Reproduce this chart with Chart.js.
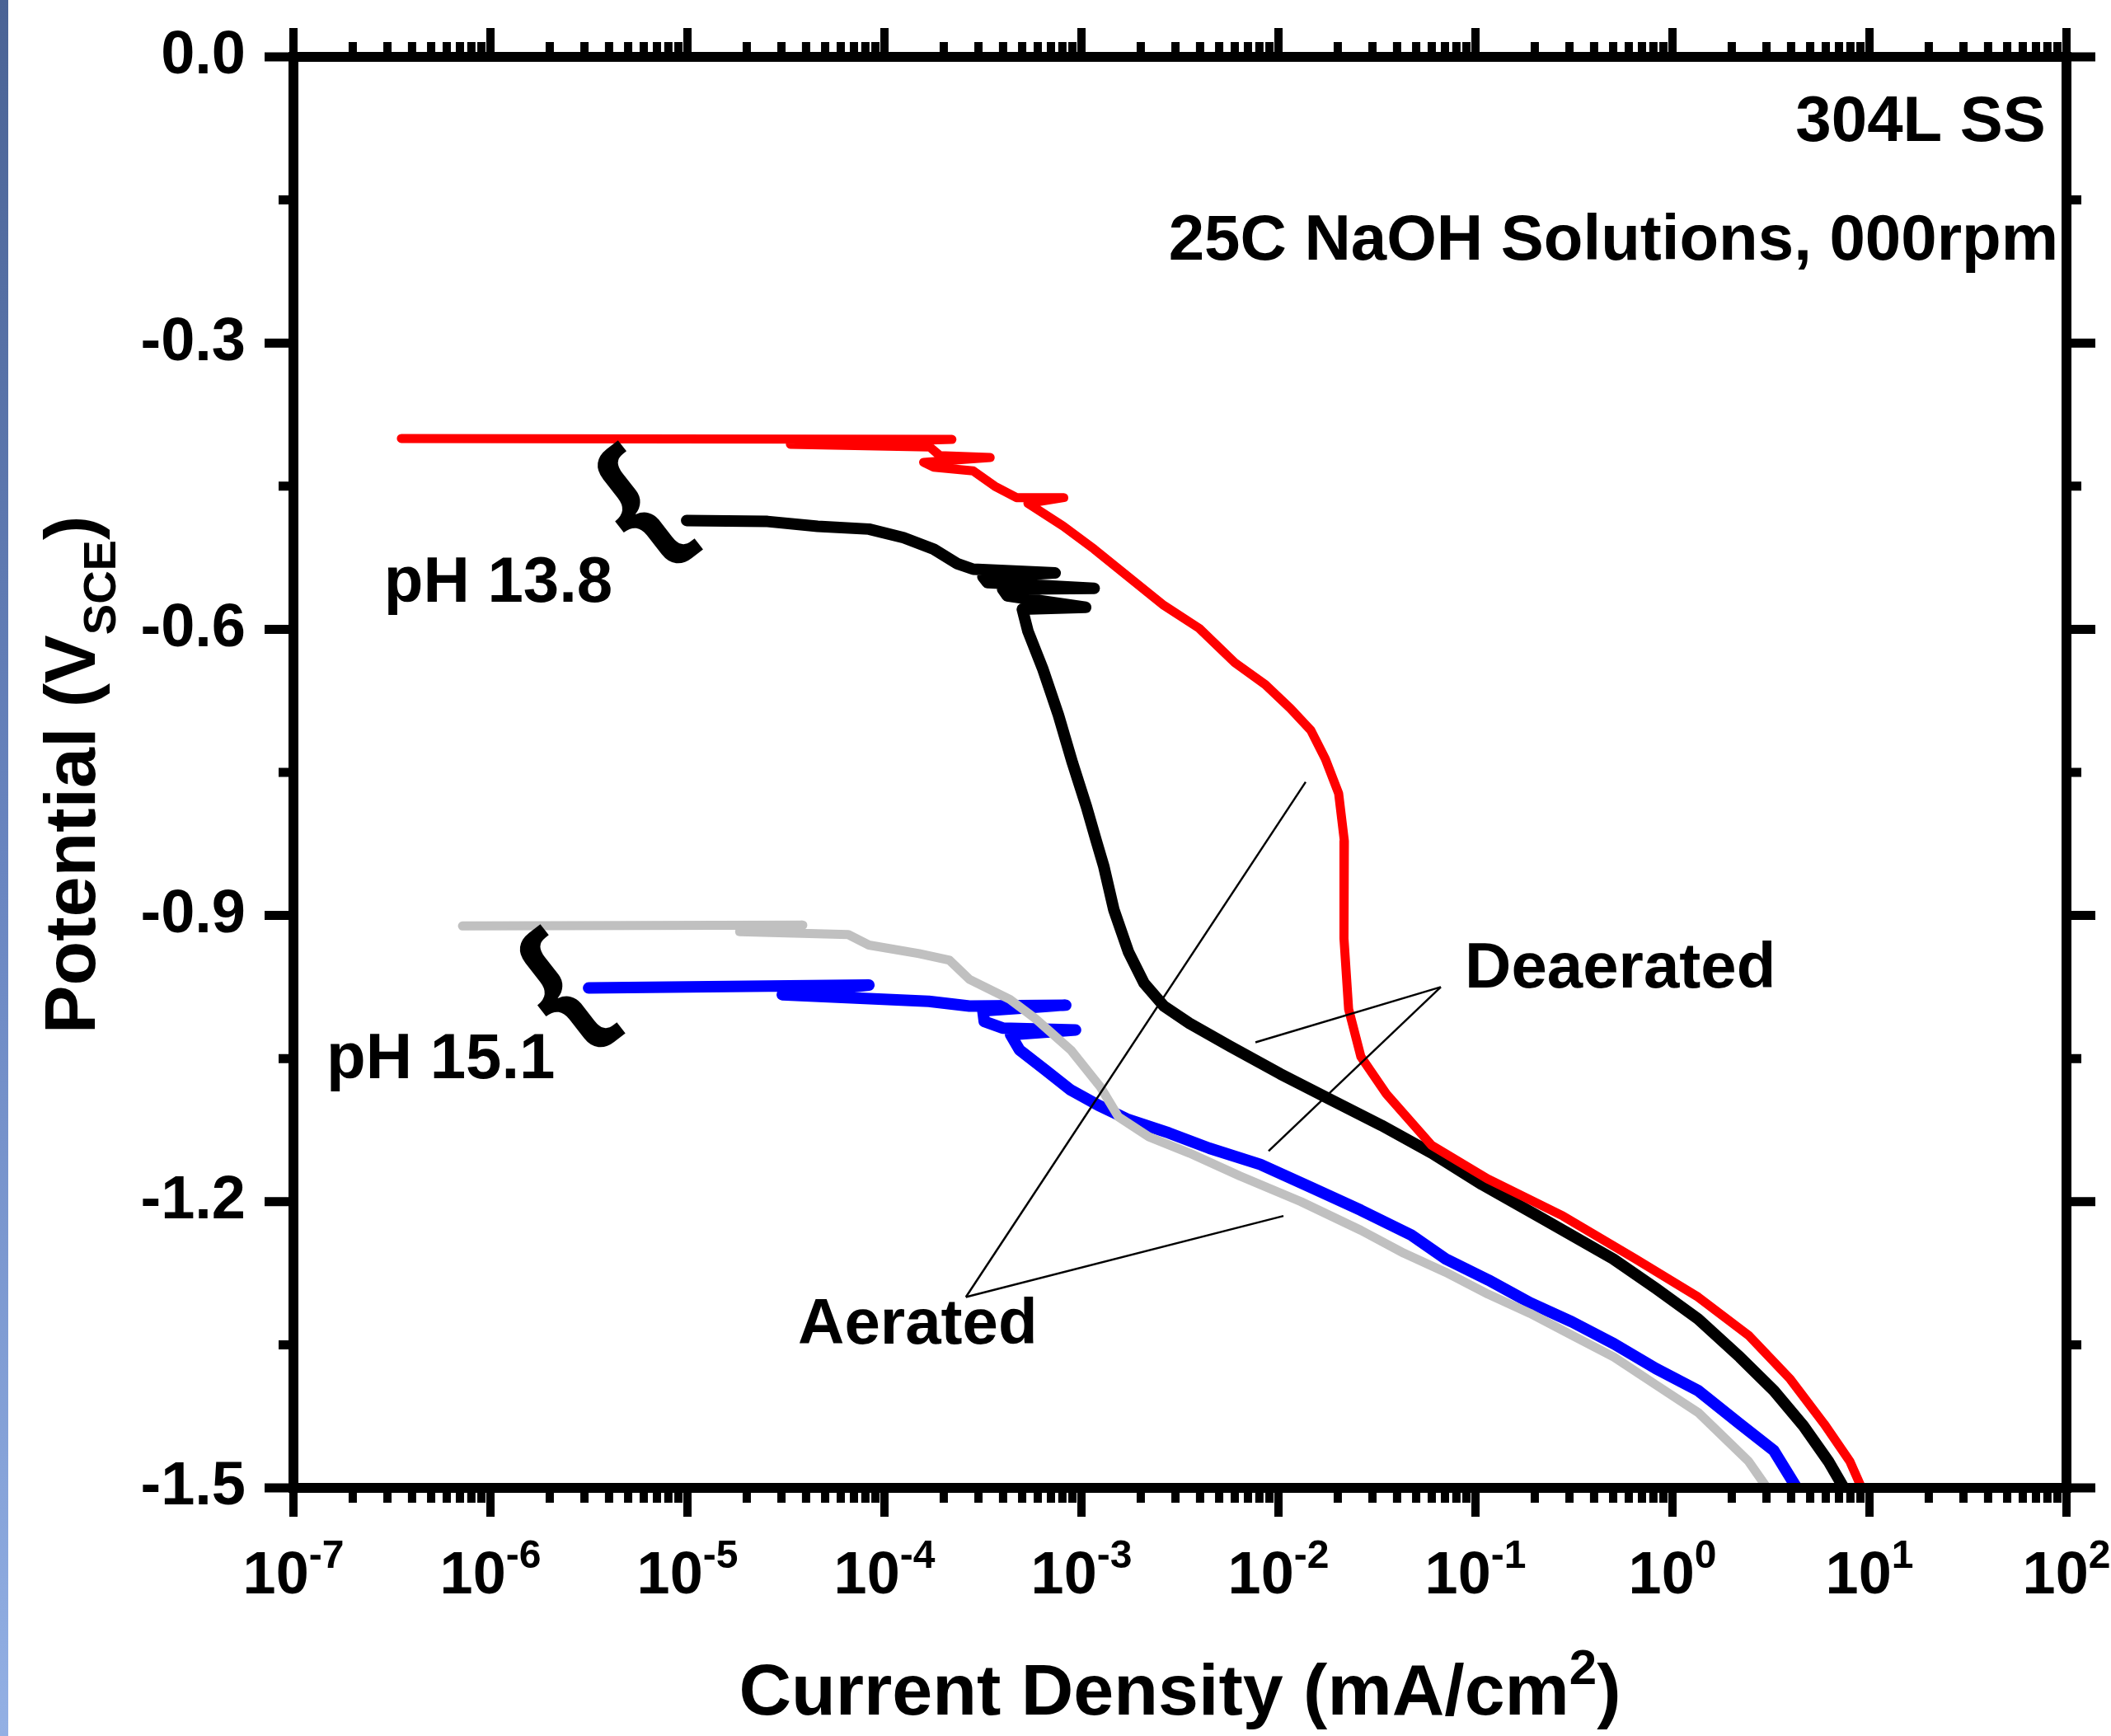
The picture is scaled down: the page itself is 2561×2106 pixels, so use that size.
<!DOCTYPE html>
<html>
<head>
<meta charset="utf-8">
<script src="https://cdn.jsdelivr.net/npm/chart.js@4.4.0/dist/chart.umd.min.js"></script>
<style>
html,body{margin:0;padding:0;background:#fff;}
canvas{display:block;}
</style>
</head>
<body>
<canvas id="c" width="2561" height="2106" style="width:2561px;height:2106px"></canvas>
<script>
// ---------- axis tick data ----------
const xDecades = [-7, -6, -5, -4, -3, -2, -1, 0, 1, 2];
const xTickBase = '10';
const xTickExponents = ['-7', '-6', '-5', '-4', '-3', '-2', '-1', '0', '1', '2'];
const yTickValues = [0, -0.3, -0.6, -0.9, -1.2, -1.5];
const yTickLabels = ['0.0', '-0.3', '-0.6', '-0.9', '-1.2', '-1.5'];
const yMinorStep = 0.15;

// ---------- series (current density mA/cm2, potential V_SCE) ----------
// Aerated, pH 13.8 (red)
const aer138Current = [3.53e-7, 2.20e-4, 3.33e-5, 1.70e-4, 1.91e-4, 3.44e-4, 1.58e-4, 1.78e-4, 2.82e-4, 3.63e-4,
  4.68e-4, 8.13e-4, 5.35e-4, 8.09e-4, 1.16e-3, 1.73e-3, 2.62e-3, 3.96e-3, 6.0e-3, 8.57e-3,
  1.15e-2, 1.46e-2, 1.73e-2, 2.02e-2, 2.16e-2, 2.15e-2, 2.27e-2, 2.62e-2, 3.53e-2, 6.0e-2,
  0.115, 0.278, 0.649, 1.35, 2.43, 3.96, 5.89, 7.94, 9.12];
const aer138Potential = [-0.400, -0.401, -0.406, -0.409, -0.418, -0.420, -0.425, -0.430, -0.434, -0.450,
  -0.462, -0.462, -0.468, -0.492, -0.516, -0.545, -0.575, -0.599, -0.635, -0.658,
  -0.683, -0.706, -0.736, -0.772, -0.822, -0.924, -0.998, -1.048, -1.087, -1.141,
  -1.176, -1.215, -1.260, -1.300, -1.340, -1.386, -1.433, -1.472, -1.500];

// Deaerated, pH 13.8 (black)
const deaer138Current = [9.91e-6, 2.55e-5, 4.58e-5, 8.34e-5, 1.25e-4, 1.78e-4, 2.33e-4, 2.82e-4, 7.35e-4, 3.16e-4,
  3.33e-4, 1.16e-3, 3.98e-4, 4.2e-4, 1.05e-3, 5.01e-4, 5.35e-4, 6.35e-4, 7.64e-4, 9.0e-4,
  1.06e-3, 1.19e-3, 1.30e-3, 1.46e-3, 1.73e-3, 2.08e-3, 2.62e-3, 3.53e-3, 5.66e-3, 1.02e-2,
  1.84e-2, 3.33e-2, 6.0e-2, 0.108, 0.220, 0.500, 0.824, 1.35, 2.20, 3.27, 4.62, 6.18, 7.41];
const deaer138Potential = [-0.486, -0.487, -0.492, -0.495, -0.504, -0.516, -0.531, -0.537, -0.541, -0.545,
  -0.551, -0.557, -0.558, -0.565, -0.577, -0.579, -0.602, -0.641, -0.690, -0.740,
  -0.786, -0.822, -0.849, -0.894, -0.938, -0.971, -0.995, -1.013, -1.037, -1.066,
  -1.093, -1.120, -1.149, -1.182, -1.218, -1.260, -1.291, -1.323, -1.363, -1.398, -1.435, -1.472, -1.500];

// Aerated, pH 15.1 (gray)
const aer151Current = [7.21e-7, 3.85e-5, 1.84e-5, 6.55e-5, 8.34e-5, 1.50e-4, 2.14e-4, 2.70e-4, 4.33e-4, 5.83e-4,
  8.83e-4, 1.25e-3, 1.54e-3, 2.20e-3, 3.53e-3, 6.35e-3, 1.30e-2, 2.62e-2, 4.33e-2, 7.06e-2,
  0.116, 0.189, 0.309, 0.505, 0.824, 1.35, 2.00, 2.43, 3.02];
const aer151Potential = [-0.911, -0.910, -0.917, -0.920, -0.931, -0.940, -0.947, -0.967, -0.988, -1.008,
  -1.041, -1.080, -1.111, -1.132, -1.149, -1.173, -1.200, -1.230, -1.254, -1.274,
  -1.297, -1.317, -1.340, -1.363, -1.392, -1.421, -1.455, -1.472, -1.500];

// Deaerated, pH 15.1 (blue)
const deaer151Current = [3.15e-6, 8.34e-5, 3.03e-5, 1.68e-4, 2.70e-4, 8.32e-4, 3.16e-4, 3.21e-4, 3.98e-4, 9.33e-4,
  4.37e-4, 4.85e-4, 6.55e-4, 8.83e-4, 1.22e-3, 1.73e-3, 2.78e-3, 4.46e-3, 8.09e-3, 1.46e-2,
  2.62e-2, 4.72e-2, 7.06e-2, 0.116, 0.189, 0.309, 0.505, 0.824, 1.35, 2.20, 3.27, 4.27];
const deaer151Potential = [-0.976, -0.973, -0.983, -0.990, -0.995, -0.994, -1.000, -1.011, -1.018, -1.020,
  -1.025, -1.041, -1.062, -1.083, -1.099, -1.114, -1.128, -1.144, -1.161, -1.185,
  -1.209, -1.235, -1.260, -1.282, -1.306, -1.326, -1.349, -1.375, -1.398, -1.433, -1.461, -1.500];

// ---------- annotations (in data coordinates) ----------
const noteTexts = [
  { text: '304L SS', x: 78.5, y: -0.0881, align: 'right' },
  { text: '25C NaOH Solutions, 000rpm', x: 90.8, y: -0.2126, align: 'right' },
  { text: 'pH 13.8', x: 2.88e-7, y: -0.5712, align: 'left' },
  { text: 'pH 15.1', x: 1.47e-7, y: -1.0706, align: 'left' },
  { text: 'Deaerated', x: 0.0883, y: -0.9755, align: 'left' },
  { text: 'Aerated', x: 3.64e-5, y: -1.3488, align: 'left' }
];
const braces = [
  { x: 6.93e-6, y: -0.4627 },
  { x: 2.79e-6, y: -0.9699 }
];
const pointers = [
  { apex: [0.0667, -0.975], ends: [[0.00764, -1.033], [0.00891, -1.147]] },
  { apex: [2.59e-4, -1.300], ends: [[0.01374, -0.760], [0.0106, -1.215]] }
];

const FONT = '"Liberation Sans", Arial, Helvetica, sans-serif';
const zip = (xs, ys) => xs.map((x, i) => ({ x: x, y: ys[i] }));

function lineSet(label, xs, ys, color, w) {
  return {
    label: label, data: zip(xs, ys), borderColor: color, backgroundColor: color,
    borderWidth: w, pointRadius: 0, tension: 0, fill: false,
    borderCapStyle: 'round', borderJoinStyle: 'round'
  };
}

const decorPlugin = {
  id: 'decor',
  beforeDraw(chart) {
    const ctx = chart.ctx;
    ctx.save();
    ctx.fillStyle = '#ffffff';
    ctx.fillRect(0, 0, chart.width, chart.height);
    const g = ctx.createLinearGradient(0, 0, 0, chart.height);
    g.addColorStop(0, '#4a6395');
    g.addColorStop(0.5, '#6985c0');
    g.addColorStop(1, '#93b0e4');
    ctx.fillStyle = g;
    ctx.fillRect(0, 0, 10, chart.height);
    ctx.restore();
  },
  afterDatasetsDraw(chart) {
    const ctx = chart.ctx;
    const xs = chart.scales.x, ys = chart.scales.y;
    const a = chart.chartArea;
    const px = v => xs.getPixelForValue(v);
    const py = v => ys.getPixelForValue(v);
    ctx.save();

    // pointer lines
    ctx.strokeStyle = '#000';
    ctx.lineWidth = 2.5;
    ctx.lineCap = 'butt';
    pointers.forEach(p => {
      p.ends.forEach(e => {
        ctx.beginPath();
        ctx.moveTo(px(p.apex[0]), py(p.apex[1]));
        ctx.lineTo(px(e[0]), py(e[1]));
        ctx.stroke();
      });
    });

    // annotation texts
    ctx.fillStyle = '#000';
    ctx.font = 'bold 78px ' + FONT;
    ctx.textBaseline = 'alphabetic';
    noteTexts.forEach(t => {
      ctx.textAlign = t.align;
      ctx.fillText(t.text, px(t.x), py(t.y));
    });

    // braces
    const fs = 180;
    ctx.font = 'bold ' + fs + 'px ' + FONT;
    ctx.textAlign = 'left';
    braces.forEach(b => {
      ctx.save();
      ctx.translate(px(b.x), py(b.y));
      ctx.rotate(-38 * Math.PI / 180);
      ctx.fillText('{', -0.33 * fs, 0.259 * fs);
      ctx.restore();
    });

    // frame
    ctx.lineWidth = 12;
    ctx.lineJoin = 'miter';
    ctx.strokeRect(a.left, a.top, a.right - a.left, a.bottom - a.top);

    // x ticks (bottom outward, top outward)
    ctx.lineWidth = 10;
    xs.ticks.forEach(t => {
      const x = px(t.value);
      const len = t.major ? 35 : 18;
      ctx.beginPath();
      ctx.moveTo(x, a.bottom); ctx.lineTo(x, a.bottom + len);
      ctx.moveTo(x, a.top); ctx.lineTo(x, a.top - len);
      ctx.stroke();
    });
    // y ticks (left outward, right outward)
    ctx.lineWidth = 11;
    ys.ticks.forEach(t => {
      const y = py(t.value);
      const major = Math.abs(Math.round(t.value / yMinorStep)) % 2 === 0;
      const len = major ? 35 : 18;
      ctx.beginPath();
      ctx.moveTo(a.left, y); ctx.lineTo(a.left - len, y);
      ctx.moveTo(a.right, y); ctx.lineTo(a.right + len, y);
      ctx.stroke();
    });

    // x tick labels: 10^n
    ctx.textBaseline = 'alphabetic';
    ctx.textAlign = 'left';
    const base = a.bottom;
    xDecades.forEach((d, i) => {
      const x = px(Math.pow(10, d));
      ctx.font = 'bold 72px ' + FONT;
      const wb = ctx.measureText(xTickBase).width;
      ctx.font = 'bold 48px ' + FONT;
      const we = ctx.measureText(xTickExponents[i]).width;
      const start = x - (wb + we) / 2;
      ctx.font = 'bold 72px ' + FONT;
      ctx.fillText(xTickBase, start, base + 128);
      ctx.font = 'bold 48px ' + FONT;
      ctx.fillText(xTickExponents[i], start + wb, base + 97);
    });

    // x axis title with superscript
    const cx = (a.left + a.right) / 2;
    ctx.font = 'bold 88px ' + FONT;
    const t1 = 'Current Density (mA/cm';
    const w1 = ctx.measureText(t1).width;
    const w3 = ctx.measureText(')').width;
    ctx.font = 'bold 60px ' + FONT;
    const w2 = ctx.measureText('2').width;
    let sx = cx - (w1 + w2 + w3) / 2;
    ctx.font = 'bold 88px ' + FONT;
    ctx.fillText(t1, sx, base + 275);
    ctx.font = 'bold 60px ' + FONT;
    ctx.fillText('2', sx + w1, base + 238);
    ctx.font = 'bold 88px ' + FONT;
    ctx.fillText(')', sx + w1 + w2, base + 275);

    // y axis title with subscript
    const cy = (a.top + a.bottom) / 2 + 3;
    ctx.save();
    ctx.translate(a.left - 241, cy);
    ctx.rotate(-Math.PI / 2);
    ctx.font = 'bold 88px ' + FONT;
    const y1 = 'Potential (V';
    const v1 = ctx.measureText(y1).width;
    const v3 = ctx.measureText(')').width;
    ctx.font = 'bold 56px ' + FONT;
    const v2 = ctx.measureText('SCE').width;
    const s0 = -(v1 + v2 + v3) / 2;
    ctx.font = 'bold 88px ' + FONT;
    ctx.fillText(y1, s0, 0);
    ctx.font = 'bold 56px ' + FONT;
    ctx.fillText('SCE', s0 + v1, 25);
    ctx.font = 'bold 88px ' + FONT;
    ctx.fillText(')', s0 + v1 + v2, 0);
    ctx.restore();

    ctx.restore();
  }
};

new Chart(document.getElementById('c'), {
  type: 'line',
  data: {
    datasets: [
      lineSet('Aerated pH 13.8', aer138Current, aer138Potential, '#ff0000', 11),
      lineSet('Deaerated pH 13.8', deaer138Current, deaer138Potential, '#000000', 14),
      lineSet('Aerated pH 15.1', aer151Current, aer151Potential, '#c0c0c0', 11),
      lineSet('Deaerated pH 15.1', deaer151Current, deaer151Potential, '#0000ff', 14)
    ]
  },
  options: {
    responsive: false,
    devicePixelRatio: 1,
    animation: false,
    events: [],
    layout: { padding: { top: 69, right: 54, left: 0, bottom: 0 } },
    plugins: { legend: { display: false }, tooltip: { enabled: false }, title: { display: false } },
    scales: {
      x: {
        type: 'logarithmic',
        position: 'bottom',
        min: 1e-7,
        max: 1e2,
        grid: { display: false, drawTicks: false },
        border: { display: false },
        ticks: { display: false },
        afterBuildTicks: s => {
          const t = [];
          xDecades.forEach((d, i) => {
            const last = i === xDecades.length - 1;
            for (let m = 1; m <= (last ? 1 : 9); m++) {
              t.push({ value: m * Math.pow(10, d), major: m === 1 });
            }
          });
          s.ticks = t;
        },
        afterFit: s => { s.height = 301; s.paddingLeft = 0; s.paddingRight = 0; }
      },
      y: {
        type: 'linear',
        position: 'left',
        min: -1.5,
        max: 0,
        grid: { display: false, drawTicks: false },
        border: { display: false },
        afterBuildTicks: s => {
          const t = [];
          for (let i = 0; i <= 10; i++) t.push({ value: -1.5 + yMinorStep * i });
          s.ticks = t;
        },
        ticks: {
          autoSkip: false,
          padding: 58,
          color: '#000',
          font: { family: FONT, size: 74, weight: 'bold' },
          callback: (v) => {
            const k = yTickValues.findIndex(q => Math.abs(q - v) < 1e-6);
            return k >= 0 ? yTickLabels[k] : '';
          }
        },
        afterFit: s => { s.width = 356; s.paddingTop = 0; s.paddingBottom = 0; }
      }
    }
  },
  plugins: [decorPlugin]
});
</script>
</body>
</html>
